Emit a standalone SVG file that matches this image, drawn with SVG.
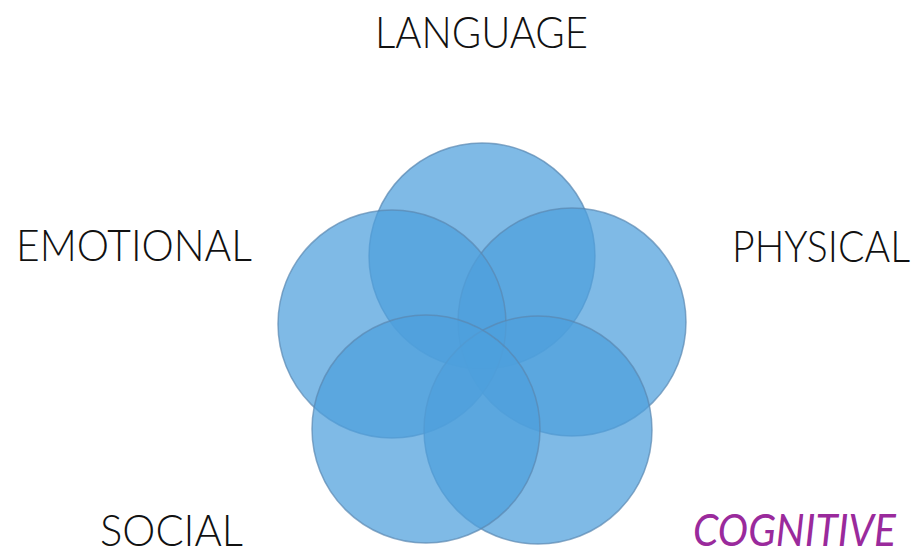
<svg xmlns="http://www.w3.org/2000/svg" width="924" height="556" viewBox="0 0 924 556">
<style>
.lbl{font-family:Lato,"Liberation Sans",sans-serif;font-weight:300;font-size:44px;fill:#111;}
.cog{fill:#9a2a9c;font-style:italic;font-weight:400;}
.c{fill:rgb(78,160,220);fill-opacity:0.72;stroke:#5a88b0;stroke-opacity:0.7;stroke-width:1.5;}
</style>
<rect width="924" height="556" fill="#fff"/>
<g id="language-circle"><circle class="c" cx="482" cy="256" r="113"/></g>
<g id="physical-circle"><circle class="c" cx="572" cy="322" r="114"/></g>
<g id="emotional-circle"><circle class="c" cx="392" cy="324" r="114"/></g>
<g id="cognitive-circle"><circle class="c" cx="538" cy="430" r="114"/></g>
<g id="social-circle"><circle class="c" cx="426" cy="429" r="114"/></g>
<g id="connectors"></g>
<g id="language"><text class="lbl" x="375" y="48" textLength="213" lengthAdjust="spacingAndGlyphs">LANGUAGE</text></g>
<g id="emotional"><text class="lbl" x="16" y="261" textLength="236" lengthAdjust="spacingAndGlyphs">EMOTIONAL</text></g>
<g id="physical"><text class="lbl" x="910" y="262" text-anchor="end" textLength="178" lengthAdjust="spacingAndGlyphs">PHYSICAL</text></g>
<g id="social"><text class="lbl" x="100" y="546" textLength="143" lengthAdjust="spacingAndGlyphs">SOCIAL</text></g>
<g id="cognitive"><text class="lbl cog" x="693" y="546" textLength="203" lengthAdjust="spacingAndGlyphs">COGNITIVE</text></g>
</svg>
